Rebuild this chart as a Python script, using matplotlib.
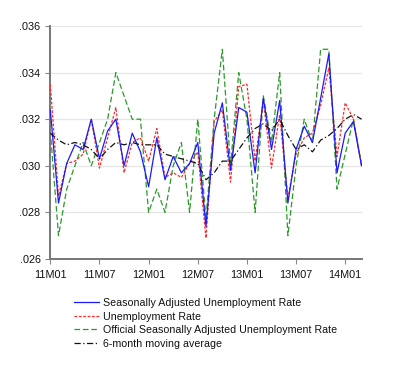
import matplotlib
matplotlib.use("Agg")
import matplotlib.pyplot as plt

plt.rcParams['font.family'] = ['Liberation Sans', 'DejaVu Sans']

tick_pos = [0, 6, 12, 18, 24, 30, 36]
tick_labels = ["11M01", "11M07", "12M01", "12M07", "13M01", "13M07", "14M01"]
y_ticks = [0.026, 0.028, 0.030, 0.032, 0.034, 0.036]
y_tick_labels = [".026", ".028", ".030", ".032", ".034", ".036"]

sa_rate = [0.0324, 0.0284, 0.0301, 0.0309, 0.0307, 0.0320, 0.0303, 0.0315, 0.0320, 0.0300,
           0.0314, 0.0306, 0.0291, 0.0312, 0.0294, 0.0304, 0.0297, 0.0301, 0.0310, 0.0274,
           0.0314, 0.0327, 0.0298, 0.0325, 0.0323, 0.0297, 0.0329, 0.0307, 0.0328, 0.0284,
           0.0307, 0.0317, 0.0310, 0.0329, 0.0348, 0.0297, 0.0314, 0.0319, 0.0300]
raw_rate = [0.0335, 0.0287, 0.0301, 0.0302, 0.0305, 0.0320, 0.0299, 0.0312, 0.0325, 0.0297,
            0.0310, 0.0312, 0.0302, 0.0316, 0.0295, 0.0297, 0.0295, 0.0301, 0.0306, 0.0269,
            0.0319, 0.0324, 0.0293, 0.0334, 0.0335, 0.0302, 0.0328, 0.0299, 0.0322, 0.0286,
            0.0305, 0.0312, 0.0314, 0.0326, 0.0342, 0.0304, 0.0327, 0.0320, 0.0300]
official_sa = [0.0315, 0.0270, 0.0290, 0.0300, 0.0310, 0.0300, 0.0310, 0.0320, 0.0340, 0.0330,
               0.0320, 0.0320, 0.0280, 0.0290, 0.0280, 0.0300, 0.0310, 0.0280, 0.0320, 0.0277,
               0.0320, 0.0350, 0.0300, 0.0340, 0.0320, 0.0280, 0.0330, 0.0310, 0.0340, 0.0270,
               0.0300, 0.0320, 0.0310, 0.0350, 0.0350, 0.0290, 0.0305, 0.0320, 0.0300]
moving_avg = [0.0314, 0.0311, 0.0309, 0.0310, 0.0309, 0.0307, 0.0303, 0.0307, 0.0310, 0.0309,
              0.0310, 0.0309, 0.0309, 0.0309, 0.0305, 0.0304, 0.0303, 0.0302, 0.0301, 0.0294,
              0.0297, 0.0302, 0.0302, 0.0307, 0.0312, 0.0316, 0.0318, 0.0315, 0.0320, 0.0313,
              0.0307, 0.0309, 0.0306, 0.0311, 0.0313, 0.0316, 0.0320, 0.0322, 0.0320]

x = list(range(len(sa_rate)))

fig = plt.figure(figsize=(4.0, 3.71), dpi=100)
ax = fig.add_axes([0.1258, 0.3019, 0.904 - 0.1258, 0.930 - 0.3019])

ax.plot(x, sa_rate, color='#1a1aff', lw=0.9, label='Seasonally Adjusted Unemployment Rate', zorder=4)
ax.plot(x, raw_rate, color='#ff2a2a', lw=0.9, ls=(0, (2.2, 1.3)), label='Unemployment Rate', zorder=3)
ax.plot(x, official_sa, color='#2a9a2a', lw=0.9, ls=(0, (4.5, 2.2)), label='Official Seasonally Adjusted Unemployment Rate', zorder=2)
ax.plot(x, moving_avg, color='#111111', lw=0.9, ls=(0, (5, 2, 1, 2)), label='6-month moving average', zorder=5)

ax.set_xlim(0, 38)
ax.set_ylim(0.026, 0.036)
ax.set_xticks(tick_pos)
ax.set_xticklabels(tick_labels)
ax.set_yticks(y_ticks)
ax.set_yticklabels(y_tick_labels)
ax.tick_params(labelsize=7.8, colors='#222222', length=3.5, width=0.8)
ax.tick_params(axis='both', color='#888888')
ax.tick_params(axis='x', pad=4.5)
for lab in ax.get_xticklabels() + ax.get_yticklabels():
    lab.set_color('#111111')

for s in ['top', 'right']:
    ax.spines[s].set_visible(False)
for s in ['left', 'bottom']:
    ax.spines[s].set_color('#777777')
    ax.spines[s].set_linewidth(1.4)

ax.set_axisbelow(True)
ax.yaxis.grid(True, color='#e6e6e6', lw=0.9)
ax.set_facecolor('white')

leg = fig.legend(loc='upper left', bbox_to_anchor=(0.185, 0.197), frameon=False,
                 fontsize=7.7, handlelength=2.35, handletextpad=0.35,
                 labelspacing=0.34, borderpad=0, borderaxespad=0)
for t in leg.get_texts():
    t.set_color('#111111')

fig.savefig('out.png', dpi=100, facecolor='white')
